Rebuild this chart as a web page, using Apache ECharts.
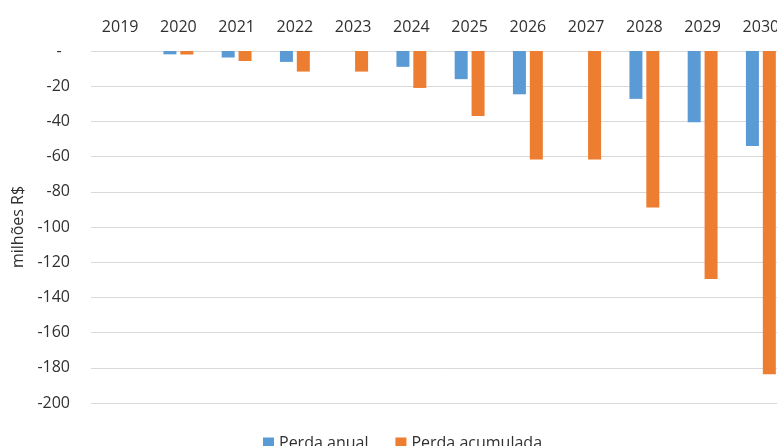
<!DOCTYPE html>
<html>
<head>
<meta charset="utf-8">
<script src="https://cdn.jsdelivr.net/npm/echarts@6/dist/echarts.min.js"></script>
<style>
  html, body { margin: 0; padding: 0; background: #fff; overflow: hidden; }
  #chart { width: 800px; height: 446px; }
</style>
</head>
<body>
<div id="chart"></div>
<script>
const years = ['2019', '2020', '2021', '2022', '2023', '2024', '2025', '2026', '2027', '2028', '2029', '2030'];
const perdaAnual = [0, -1.9, -3.7, -6.2, 0, -9, -16, -24.6, 0, -27.2, -40.5, -54];
const perdaAcumulada = [0, -2, -5.7, -11.7, -11.7, -21, -37, -61.6, -61.6, -88.9, -129.5, -183.6];

const font = 'Open Sans';
const textColor = '#303030';

// the original picture is cropped on the right, so the chart is wider than the window
const chart = echarts.init(document.getElementById('chart'), null, { renderer: 'canvas' });

chart.setOption({
  animation: false,
  backgroundColor: '#ffffff',
  grid: { left: 91, width: 699, top: 51, bottom: 43, containLabel: false },
  legend: {
    left: 258,
    top: 430,
    itemWidth: 11,
    itemHeight: 11,
    itemGap: 27,
    icon: 'rect',
    textStyle: { fontFamily: font, fontSize: 16, color: textColor },
    data: ['Perda anual', 'Perda acumulada']
  },
  xAxis: {
    type: 'category',
    position: 'top',
    data: years,
    axisLine: { show: false },
    axisTick: { show: false },
    axisLabel: { fontFamily: font, fontSize: 16, color: textColor, margin: 16 }
  },
  yAxis: {
    type: 'value',
    min: -200,
    max: 0,
    interval: 20,
    name: 'milhões R$',
    nameLocation: 'middle',
    nameGap: 64,
    nameRotate: 90,
    nameTextStyle: { fontFamily: font, fontSize: 16, color: textColor },
    axisLine: { show: false },
    axisTick: { show: false },
    axisLabel: {
      fontFamily: font, fontSize: 16, color: textColor, margin: 21,
      formatter: (v) => (v === 0 ? '-  ' : String(v))
    },
    splitLine: { lineStyle: { color: '#D9D9D9', width: 1 } }
  },
  series: [
    {
      name: 'Perda anual',
      type: 'bar',
      data: perdaAnual,
      barWidth: 13,
      barGap: '30%',
      itemStyle: { color: '#5B9BD5' }
    },
    {
      name: 'Perda acumulada',
      type: 'bar',
      data: perdaAcumulada,
      barWidth: 13,
      itemStyle: { color: '#ED7D31' }
    }
  ]
});
</script>
</body>
</html>
